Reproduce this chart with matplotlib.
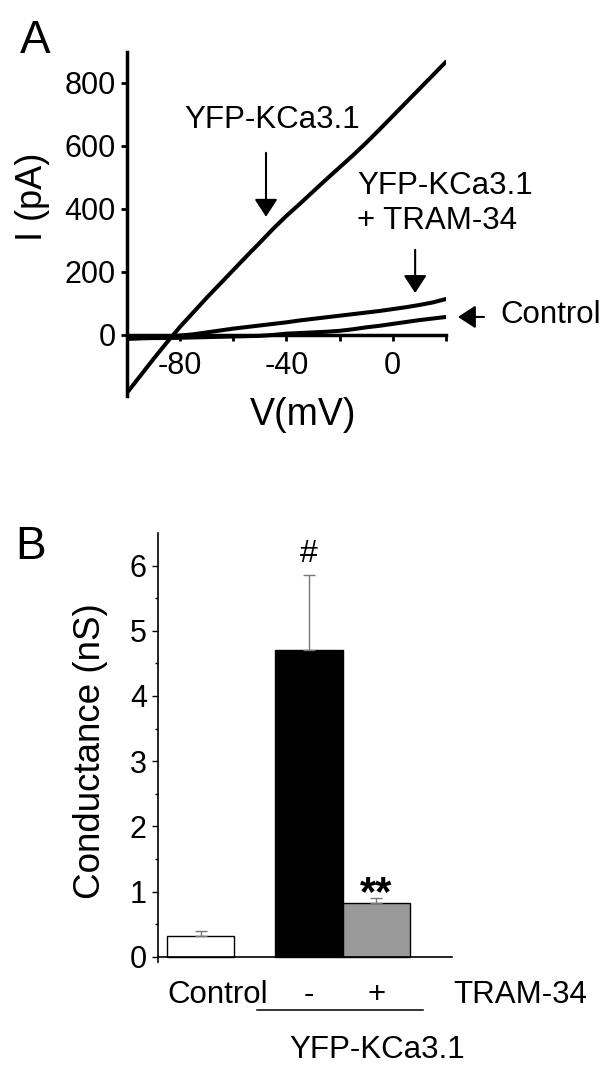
import matplotlib
matplotlib.use('Agg')
import matplotlib.pyplot as plt
from matplotlib.transforms import blended_transform_factory

plt.rcParams['font.family'] = ['Liberation Sans', 'DejaVu Sans']

# panel A: current-voltage curves
voltage = [-100, -95, -90, -85, -80, -75, -70, -65, -60, -55, -50, -45, -40,
           -35, -30, -25, -20, -15, -10, -5, 0, 5, 10, 15, 20]
i_kca = [-184, -130, -76, -24, 26, 72, 118, 162, 206, 250, 293, 337, 378,
         416, 455, 494, 532, 570, 610, 652, 695, 738, 781, 824, 867]
i_tram = [-12, -10, -8, -5, -2, 2, 8, 14, 20, 25, 30, 35, 40,
          46, 51, 56, 61, 66, 71, 76, 82, 88, 95, 103, 114]
i_control = [-12, -11, -10, -10, -9, -8, -7, -6, -5, -4, -3, 0, 4,
             6, 8, 10, 13, 18, 24, 29, 35, 41, 47, 52, 57]

# panel B: conductance bars
groups = ['Control', 'YFP-KCa3.1', 'YFP-KCa3.1 + TRAM-34']
conductance = [0.32, 4.70, 0.83]
sem = [0.07, 1.15, 0.07]
bar_colors = ['white', 'black', '#999999']
bar_pos = [0, 1.6, 2.6]

fig = plt.figure(figsize=(6.09, 10.75), dpi=100)

# ---- panel A ----
axA = fig.add_axes([0.2085, 0.6316, 0.5238, 0.32])
for cur in [i_kca, i_tram, i_control]:
    axA.plot(voltage, cur, color='k', lw=2.9, solid_capstyle='round')
axA.set_xlim(-100, 20)
axA.set_ylim(-194, 898)
for s in ['top', 'right']:
    axA.spines[s].set_visible(False)
axA.spines['bottom'].set_position(('data', 0))
for s in ['left', 'bottom']:
    axA.spines[s].set_linewidth(2.5)
axA.set_xticks(range(-100, 21, 20))
axA.set_xticklabels(['', '-80', '', '-40', '', '0', ''])
axA.set_yticks([0, 200, 400, 600, 800])
axA.set_yticklabels(['0', '200', '400', '600', '800'])
axA.tick_params(axis='both', direction='out', length=4, width=2, labelsize=22)
axA.tick_params(axis='x', pad=7.5)
axA.tick_params(axis='y', pad=4)

arrow = dict(arrowstyle='-|>,head_length=0.4,head_width=0.26',
             mutation_scale=27, lw=1.5, color='k', shrinkA=0, shrinkB=0)
axA.text(-45.4, 683, 'YFP-KCa3.1', fontsize=22.5, ha='center', va='center')
axA.annotate('', xy=(-47.7, 375), xytext=(-47.7, 578), arrowprops=arrow)
axA.text(-13.5, 417, 'YFP-KCa3.1\n+ TRAM-34', fontsize=22.5, ha='left',
         va='center', multialignment='left')
axA.annotate('', xy=(8.4, 133), xytext=(8.4, 270), arrowprops=arrow)
axA.annotate('', xy=(24.5, 57), xytext=(34.3, 57), arrowprops=arrow,
             annotation_clip=False)
axA.text(40.3, 63, 'Control', fontsize=22.5, ha='left', va='center', clip_on=False)

fig.text(32 / 609, 1 - 197 / 1075, 'I (pA)', fontsize=26, rotation=90,
         ha='center', va='center')
fig.text(303 / 609, 1 - 425 / 1075, 'V(mV)', fontsize=27, ha='center',
         va='baseline')
fig.text(20 / 609, 1 - 53 / 1075, 'A', fontsize=33, va='baseline')

# ---- panel B ----
axB = fig.add_axes([0.2594, 0.1051, 0.4828, 0.3991])
axB.bar(bar_pos, conductance, width=1, color=bar_colors, edgecolor='k',
        lw=1, zorder=2)
axB.errorbar(bar_pos, conductance, yerr=[[0, 0, 0], sem], fmt='none',
             ecolor='#777777', elinewidth=1, capsize=4, capthick=1, zorder=3)
axB.set_xlim(-0.63, 3.72)
axB.set_ylim(-0.08, 6.5)
for s in ['top', 'right']:
    axB.spines[s].set_visible(False)
axB.spines['bottom'].set_position(('data', 0))
for s in ['left', 'bottom']:
    axB.spines[s].set_linewidth(1.2)
axB.set_xticks([])
axB.set_yticks(range(0, 7))
axB.set_yticks([x + 0.5 for x in range(0, 6)], minor=True)
axB.tick_params(axis='y', which='major', direction='out', length=4, width=1,
                labelsize=22, pad=4)
axB.tick_params(axis='y', which='minor', direction='out', length=2.5, width=1)

axB.text(bar_pos[1], 6.05, '#', fontsize=23, ha='center', va='baseline')
axB.text(bar_pos[2], 0.80, '**', fontsize=30, fontweight='bold',
         ha='center', va='baseline')

trans = blended_transform_factory(axB.transData, fig.transFigure)
yb = 1 - 1003 / 1075
axB.text(0.25, yb, 'Control', fontsize=22.5, ha='center', va='baseline',
         transform=trans)
axB.text(bar_pos[1], yb, '-', fontsize=22.5, ha='center', va='baseline',
         transform=trans)
axB.text(bar_pos[2], yb, '+', fontsize=22.5, ha='center', va='baseline',
         transform=trans)
axB.text(3.734, yb, 'TRAM-34', fontsize=22.5, ha='left', va='baseline',
         transform=trans)
axB.plot([0.834, 3.29], [1 - 1010 / 1075] * 2, color='k', lw=1.1,
         transform=trans, clip_on=False)
axB.text(2.61, 1 - 1058 / 1075, 'YFP-KCa3.1', fontsize=22.5, ha='center',
         va='baseline', transform=trans)

fig.text(90 / 609, 1 - 751 / 1075, 'Conductance (nS)', fontsize=26.5,
         rotation=90, ha='center', va='center')
fig.text(15 / 609, 1 - 559 / 1075, 'B', fontsize=33, va='baseline')

fig.savefig('out.png', dpi=100)
plt.close()
